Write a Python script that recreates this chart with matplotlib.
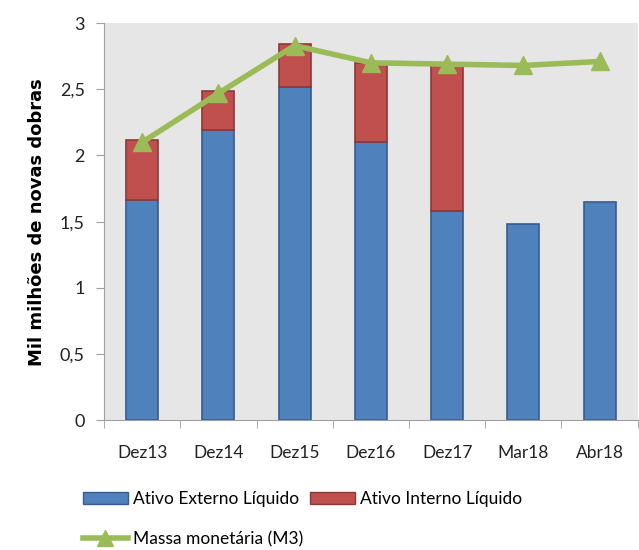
import numpy as np
import matplotlib.pyplot as plt
from matplotlib.patches import Patch
from matplotlib.lines import Line2D

plt.rcParams['font.family'] = ['Lato', 'DejaVu Sans']

# Data (mil milhões de novas dobras)
categories = ["Dez13", "Dez14", "Dez15", "Dez16", "Dez17", "Mar18", "Abr18"]
ativo_externo = [1.66, 2.19, 2.52, 2.10, 1.58, 1.48, 1.65]
ativo_interno = [0.46, 0.30, 0.32, 0.60, 1.10, np.nan, np.nan]
massa_m3 = [2.10, 2.47, 2.83, 2.70, 2.69, 2.68, 2.71]

fig = plt.figure(figsize=(6.39, 5.5), dpi=100)
ax = fig.add_axes([0.163, 0.236, 0.835, 0.722])
ax.set_facecolor("#E6E6E6")

x = np.arange(len(categories))
w = 0.42
ax.bar(x, ativo_externo, w, color="#4F81BD", edgecolor="#385D8A", linewidth=1.2, zorder=2)
ax.bar(x, ativo_interno, w, bottom=ativo_externo, color="#C0504D", edgecolor="#8C3836",
       linewidth=1.2, zorder=2)
ax.plot(x, massa_m3, color="#9BBB59", linewidth=4, marker="^", markersize=13, zorder=3)

ax.set_xlim(-0.5, len(categories) - 0.5)
ax.set_ylim(0, 3)
ax.set_yticks([0, 0.5, 1, 1.5, 2, 2.5, 3])
ax.set_yticklabels(["0", "0,5", "1", "1,5", "2", "2,5", "3"], fontsize=13, color="#222222")
ax.set_xticks(x)
ax.set_xticklabels(categories, fontsize=12.5, color="#222222")
ax.tick_params(axis="x", length=0, pad=18)
ax.set_xticks(np.arange(-0.5, len(categories), 1), minor=True)
ax.tick_params(axis="x", which="minor", length=6, color="#A0A0A0")
ax.tick_params(axis="y", length=6, color="#A0A0A0", pad=8)

for s in ["top", "right"]:
    ax.spines[s].set_visible(False)
for s in ["left", "bottom"]:
    ax.spines[s].set_color("#A0A0A0")

ax.set_ylabel("Mil milhões de novas dobras", fontsize=13, fontweight="bold",
              family="DejaVu Sans", labelpad=10)

h_bars = [
    Patch(facecolor="#4F81BD", edgecolor="#385D8A", label="Ativo Externo Líquido"),
    Patch(facecolor="#C0504D", edgecolor="#8C3836", label="Ativo Interno Líquido"),
]
h_line = [Line2D([0], [0], color="#9BBB59", linewidth=4, marker="^", markersize=11,
                 label="Massa monetária (M3)")]
fig.legend(handles=h_bars, ncol=2, loc="center left", bbox_to_anchor=(0.105, 0.092),
           frameon=False, fontsize=12.5, handlelength=2.6, handletextpad=0.3,
           columnspacing=0.6)
fig.legend(handles=h_line, loc="center left", bbox_to_anchor=(0.105, 0.02),
           frameon=False, fontsize=12.5, handlelength=2.6, handletextpad=0.3)

fig.savefig("out.png", dpi=100)
